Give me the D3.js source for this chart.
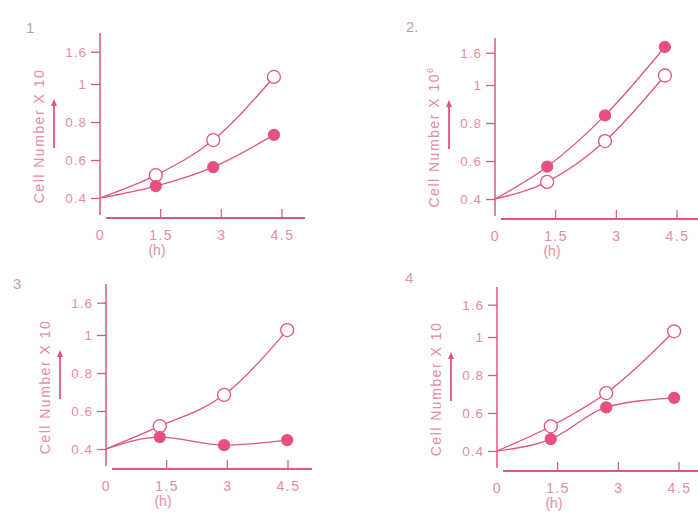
<!DOCTYPE html>
<html>
<head>
<meta charset="utf-8">
<script src="https://cdn.jsdelivr.net/npm/d3@7"></script>
<style>
  body { margin: 0; background: #fff; }
  text { font-family: Arial, "Liberation Sans", sans-serif; }
</style>
</head>
<body>
<div id="chart"></div>
<script>
// values
var panelNames = ["1", "2.", "3", "4"];
var yTickValues = [0.4, 0.6, 0.8, 1.0, 1.17];
var yTickLabels = ["0.4", "0.6", "0.8", "1", "1.6"];
var xTickValues = [0, 1.5, 3, 4.5];
var xTickLabels = ["0", "1.5", "3", "4.5"];

var times1 = [0, 1.38, 2.8, 4.3];
var open1 = [0.4, 0.52, 0.705, 1.037];
var filled1 = [0.4, 0.463, 0.563, 0.732];

var times2 = [0, 1.29, 2.72, 4.2];
var open2 = [0.4, 0.49, 0.705, 1.05];
var filled2 = [0.4, 0.57, 0.84, 1.2];

var times3 = [0, 1.33, 2.92, 4.48];
var open3 = [0.4, 0.52, 0.685, 1.026];
var filled3 = [0.4, 0.463, 0.42, 0.447];

var times4 = [0, 1.33, 2.7, 4.38];
var open4 = [0.4, 0.53, 0.705, 1.03];
var filled4 = [0.4, 0.463, 0.63, 0.68];

var lineColor = "#e0567f",
    textColor = "#e68ca3",
    dotColor = "#e84f7c";

var panels = [
  {name: panelNames[0], times: times1, open: open1, filled: filled1,
   ax: 100, y0: 198, top: 33, xEnd: 305, sup: "", num: [26, 33]},
  {name: panelNames[1], times: times2, open: open2, filled: filled2,
   ax: 495, y0: 199, top: 38, xEnd: 698, sup: "6", num: [406, 32]},
  {name: panelNames[2], times: times3, open: open3, filled: filled3,
   ax: 106, y0: 449, top: 284, xEnd: 312, sup: "", num: [13, 289]},
  {name: panelNames[3], times: times4, open: open4, filled: filled4,
   ax: 497, y0: 451, top: 287, xEnd: 698, sup: "", num: [405, 283]}
];

var svg = d3.select("#chart")
    .append("svg")
    .attr("width", 698)
    .attr("height", 523);

panels.forEach(function(p) {
    var x = d3.scaleLinear().domain([0, 4.5]).range([p.ax, p.ax + 182]);
    var y = d3.scaleLinear().domain([0.4, 1.2]).range([p.y0, p.y0 - 152]);

    var g = svg.append("g");

    // panel number
    g.append("text")
        .attr("x", p.num[0])
        .attr("y", p.num[1])
        .style("font-size", "15px")
        .style("fill", "#c9a0aa")
        .text(p.name);

    // y axis
    var yAxis = d3.axisLeft(y)
        .tickValues(yTickValues)
        .tickFormat(function(d, i) { return yTickLabels[i]; })
        .tickSize(9)
        .tickPadding(4);
    var ya = g.append("g")
        .attr("transform", "translate(" + p.ax + ",0)")
        .call(yAxis);
    ya.select(".domain").remove();
    ya.selectAll("line").attr("stroke", lineColor).attr("stroke-width", 1.3);
    ya.selectAll("text")
        .style("font-size", "13.5px")
        .style("letter-spacing", "1px")
        .style("fill", textColor)
        .style("font-family", "Arial, sans-serif");
    g.append("line")
        .attr("x1", p.ax).attr("x2", p.ax)
        .attr("y1", p.top).attr("y2", p.y0 + 17)
        .attr("stroke", lineColor).attr("stroke-width", 1.5);

    // x axis
    var xAxis = d3.axisBottom(x)
        .tickValues(xTickValues)
        .tickFormat(function(d, i) { return xTickLabels[i]; })
        .tickSize(0)
        .tickPadding(12);
    var xa = g.append("g")
        .attr("transform", "translate(0," + (p.y0 + 20) + ")")
        .call(xAxis);
    xa.select(".domain").remove();
    xa.selectAll("text")
        .style("font-size", "14px")
        .style("letter-spacing", "1.5px")
        .style("fill", textColor)
        .style("font-family", "Arial, sans-serif");
    g.append("line")
        .attr("x1", p.ax + 6).attr("x2", p.xEnd)
        .attr("y1", p.y0 + 20).attr("y2", p.y0 + 20)
        .attr("stroke", lineColor).attr("stroke-width", 2);
    g.selectAll(".xt")
        .data(xTickValues.slice(1))
        .enter().append("line")
        .attr("x1", function(d) { return x(d); })
        .attr("x2", function(d) { return x(d); })
        .attr("y1", p.y0 + 20).attr("y2", p.y0 + 11)
        .attr("stroke", lineColor).attr("stroke-width", 1.2);

    g.append("text")
        .attr("x", p.ax + 57)
        .attr("y", p.y0 + 57)
        .attr("text-anchor", "middle")
        .style("font-size", "14px")
        .style("fill", textColor)
        .text("(h)");

    // y label + arrow
    var lab = g.append("text")
        .attr("transform", "translate(" + (p.ax - 56) + "," + (p.y0 - 62) + ") rotate(-90)")
        .attr("text-anchor", "middle")
        .style("font-size", "14px")
        .style("letter-spacing", "1.5px")
        .style("fill", textColor)
        .text("Cell Number X 10");
    if (p.sup) {
        lab.append("tspan").attr("dy", "-6").style("font-size", "9px").text(p.sup);
    }
    var axX = p.ax - 46;
    g.append("line")
        .attr("x1", axX).attr("x2", axX)
        .attr("y1", p.y0 - 50).attr("y2", p.y0 - 93)
        .attr("stroke", lineColor).attr("stroke-width", 1.8);
    g.append("path")
        .attr("d", "M" + (axX - 3) + "," + (p.y0 - 92) + "L" + axX + "," + (p.y0 - 99) + "L" + (axX + 3) + "," + (p.y0 - 92) + "Z")
        .attr("fill", lineColor);

    // series
    var line = d3.line()
        .x(function(d) { return x(d[0]); })
        .y(function(d) { return y(d[1]); })
        .curve(d3.curveMonotoneX);

    [["open", p.open], ["filled", p.filled]].forEach(function(s) {
        var pts = p.times.map(function(t, i) { return [t, s[1][i]]; });
        g.append("path")
            .datum(pts)
            .attr("d", line)
            .attr("fill", "none")
            .attr("stroke", lineColor)
            .attr("stroke-width", 1.3);
        g.selectAll(".dot-" + s[0])
            .data(pts.slice(1))
            .enter().append("circle")
            .attr("cx", function(d) { return x(d[0]); })
            .attr("cy", function(d) { return y(d[1]); })
            .attr("r", s[0] == "open" ? 6.5 : 5.5)
            .attr("fill", s[0] == "open" ? "#fff" : dotColor)
            .attr("stroke", lineColor)
            .attr("stroke-width", 1.3);
    });
});
</script>
</body>
</html>
